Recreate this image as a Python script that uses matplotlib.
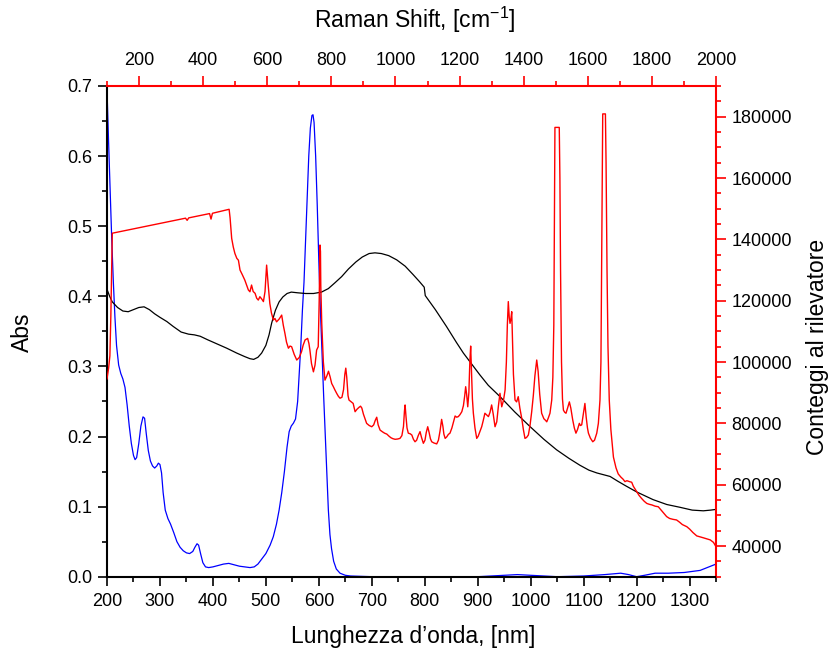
import matplotlib
matplotlib.use('Agg')
import matplotlib.pyplot as plt
from matplotlib.ticker import MultipleLocator, FormatStrFormatter

plt.rcParams['font.family'] = ['Liberation Sans', 'DejaVu Sans']
plt.rcParams['mathtext.fontset'] = 'custom'
plt.rcParams['mathtext.rm'] = 'Liberation Sans'
plt.rcParams['mathtext.it'] = 'Liberation Sans:italic'

# ---------------- data ----------------
# blue absorption spectrum (wavelength nm, Abs)
blue_wl = [200, 203, 206, 209, 212, 215, 218, 222, 226, 230, 234, 238, 242, 246, 250, 253,
           256, 260, 264, 268, 271, 274, 278, 282, 286, 290, 294, 297, 300, 303, 306, 310,
           315, 320, 326, 332, 338, 344, 350, 356, 362, 366, 370, 373, 377, 381, 386, 392,
           400, 410, 420, 430, 440, 450, 460, 470, 478, 485, 492, 500, 508, 514, 520, 525,
           530, 535, 540, 544, 548, 552, 556, 560, 563, 566, 569, 572, 575, 578, 581, 584,
           587, 589, 591, 594, 597, 600, 603, 606, 609, 612, 615, 618, 621, 624, 628, 633,
           640, 650, 660, 700, 800, 900, 950, 975, 1000, 1050, 1100, 1140, 1170, 1185, 1200,
           1215, 1235, 1260, 1290, 1320, 1350]
blue_abs = [0.695, 0.62, 0.55, 0.48, 0.42, 0.37, 0.33, 0.302, 0.29, 0.282, 0.27, 0.245, 0.215, 0.19, 0.173, 0.167,
            0.17, 0.19, 0.215, 0.228, 0.226, 0.205, 0.18, 0.165, 0.158, 0.155, 0.158, 0.162, 0.16, 0.148, 0.12, 0.095,
            0.083, 0.075, 0.063, 0.05, 0.042, 0.037, 0.034, 0.033, 0.036, 0.042, 0.047, 0.045, 0.032, 0.02, 0.014, 0.013,
            0.014, 0.016, 0.018, 0.019, 0.017, 0.015, 0.014, 0.013, 0.014, 0.018, 0.025, 0.033, 0.045, 0.057, 0.075, 0.095,
            0.12, 0.15, 0.185, 0.207, 0.215, 0.219, 0.225, 0.25, 0.29, 0.33, 0.38, 0.42, 0.48, 0.54, 0.6, 0.64,
            0.658, 0.659, 0.648, 0.6, 0.53, 0.45, 0.38, 0.32, 0.26, 0.205, 0.15, 0.095, 0.06, 0.04, 0.022, 0.011,
            0.005, 0.002, 0.001, 0.0, 0.0, 0.0, 0.002, 0.003, 0.002, 0.0, 0.001, 0.003, 0.005, 0.003, 0.0,
            0.002, 0.005, 0.005, 0.006, 0.009, 0.018]

# black absorption spectrum (wavelength nm, Abs)
black_wl = [200, 205, 210, 220, 230, 240, 250, 260, 270, 280, 290, 300, 313, 325, 340, 354,
            365, 376, 390, 405, 426, 445, 460, 470, 477, 485, 492, 500, 506, 511, 518, 525,
            532, 540, 548, 560, 575, 590, 605, 618, 630, 643, 656, 670, 682, 695, 706, 718,
            732, 747, 763, 778, 790, 799, 801, 820, 841, 860, 873, 889, 904, 920, 942, 970,
            999, 1025, 1049, 1072, 1093, 1110, 1125, 1140, 1150, 1165, 1181, 1200, 1231, 1257,
            1282, 1305, 1326, 1340, 1350]
black_abs = [0.41, 0.4, 0.392, 0.384, 0.379, 0.378, 0.381, 0.384, 0.385, 0.381, 0.375, 0.37, 0.364, 0.357, 0.349, 0.346,
             0.345, 0.343, 0.338, 0.333, 0.326, 0.319, 0.314, 0.311, 0.31, 0.313, 0.319, 0.33, 0.345, 0.362, 0.38, 0.392,
             0.399, 0.404, 0.406, 0.405, 0.404, 0.404, 0.406, 0.411, 0.419, 0.428, 0.439, 0.449, 0.456, 0.461, 0.462, 0.461,
             0.458, 0.452, 0.443, 0.431, 0.421, 0.413, 0.401, 0.381, 0.357, 0.334, 0.319, 0.303, 0.288, 0.273, 0.257, 0.235,
             0.214, 0.196, 0.181, 0.169, 0.159, 0.152, 0.148, 0.145, 0.143, 0.136, 0.129, 0.121, 0.11, 0.103,
             0.099, 0.095, 0.094, 0.095, 0.096]

# red Raman spectrum (Raman shift cm-1, detector counts)
raman_shift = [100, 105, 109, 112, 114, 116.5, 345, 350, 355, 420, 424.5, 429, 481, 484, 489, 494,
               499, 505, 510, 515, 522, 530, 536, 541, 546, 551, 556, 562, 567, 572, 577, 583,
               588, 593, 598, 603, 608, 613, 619, 624, 629, 637, 645, 650, 655, 660, 666, 671,
               676, 684, 692, 700, 707, 712, 718, 726, 730, 733, 738, 744, 749, 754, 759, 762,
               764.5, 766, 767, 770, 775, 780, 786, 791, 796, 801, 806, 811, 817, 822, 827, 833,
               838, 842, 845, 848, 852, 855, 862, 868, 874, 880, 886, 891, 895, 900, 905, 910,
               918, 926, 932, 937, 941.5, 946, 952, 960, 966, 973, 980, 986, 992, 999, 1007, 1014,
               1020, 1025, 1028, 1030, 1033, 1036, 1040, 1046, 1051, 1056, 1061, 1066, 1071, 1076.6, 1081, 1087,
               1092, 1096, 1100.6, 1105, 1109, 1113, 1120, 1128.7, 1134, 1139, 1144, 1148, 1151, 1155, 1160, 1165,
               1170, 1176, 1181, 1186, 1191, 1196, 1201, 1207, 1212, 1216, 1219, 1222, 1225.5, 1229, 1232, 1234.6,
               1237, 1240, 1243, 1248, 1253.5, 1258, 1263, 1269, 1274, 1279, 1284, 1290, 1295, 1300, 1305, 1310.6,
               1316, 1321, 1326, 1331.5, 1337, 1342, 1346, 1349, 1352, 1355, 1357.4, 1360, 1362.7, 1365, 1368, 1373,
               1378, 1383, 1388, 1394, 1399, 1404, 1409, 1414.6, 1420, 1425, 1430, 1435, 1440.7, 1445, 1450, 1456,
               1463, 1468, 1472, 1477, 1482, 1487.5, 1491, 1494, 1496, 1497.5, 1511, 1513, 1515, 1518, 1521, 1524,
               1528, 1532, 1537, 1542.5, 1547, 1553, 1558, 1563, 1568, 1573.6, 1577, 1581, 1586, 1591, 1595, 1599,
               1602, 1608, 1615.5, 1621, 1628, 1633, 1638, 1641, 1643, 1645, 1646.6, 1655, 1657, 1660, 1663, 1667,
               1672, 1680, 1688, 1695, 1703, 1710, 1716, 1722, 1730, 1737, 1742, 1748, 1753, 1760, 1768, 1776,
               1784, 1792, 1800, 1810, 1820, 1828, 1836, 1846, 1855, 1866, 1877, 1886, 1895, 1909, 1918, 1928,
               1940, 1950, 1960, 1972, 1982, 1992, 2000]
raman_counts = [94500, 98000, 102000, 115000, 128000, 142000, 146900, 146200, 147000, 148400, 146600, 148500, 149800, 147000, 140300, 137500,
                135400, 133800, 133200, 130000, 128500, 126700, 125000, 123500, 122900, 125100, 123000, 122400, 120800, 120200, 121300, 120500,
                119700, 123000, 131600, 125000, 119100, 116000, 113700, 114200, 113100, 114000, 115300, 112000, 109400, 106500, 104500, 105200,
                105000, 102500, 100650, 101500, 103400, 105500, 107200, 107700, 106000, 103900, 99500, 96800, 99000, 103900, 105000, 120000,
                138150, 136000, 125000, 112600, 100000, 94100, 95500, 97000, 95200, 93000, 92000, 90900, 89700, 88800, 88200, 88500,
                91000, 96000, 98000, 95000, 89000, 87600, 87000, 86500, 83800, 84600, 85200, 85600, 85000, 83000, 81500, 80000,
                79300, 78900, 79500, 81000, 82000, 79500, 77800, 77200, 76800, 76500, 75800, 75300, 75000, 74800, 74900, 75100,
                76000, 79000, 84000, 86000, 82000, 78500, 76800, 76600, 76200, 74800, 74000, 74500, 76000, 77300, 75500, 73500,
                74500, 77000, 78900, 77000, 75000, 74000, 73600, 73300, 74500, 77500, 81300, 79000, 76500, 75100, 75600, 76400,
                76800, 78500, 80500, 82400, 82000, 82200, 82800, 83800, 85800, 89000, 91950, 89500, 85400, 90000, 100000, 105200,
                98000, 88000, 83300, 78500, 75100, 75800, 77200, 78900, 81000, 83300, 82800, 82200, 83600, 86000, 83000, 78900,
                80500, 85500, 89800, 85400, 87500, 90900, 100000, 112000, 119700, 114500, 112600, 114000, 116400, 108000, 96000, 87600,
                87000, 88700, 85000, 81600, 78000, 75100, 75400, 76200, 79500, 83800, 89000, 95500, 100650, 97000, 89500, 83300,
                81500, 81000, 80500, 81800, 83300, 87600, 95000, 112000, 150000, 176500, 176500, 160000, 130000, 100000, 88000, 84300,
                83600, 83300, 85000, 87000, 85000, 81100, 78500, 76800, 78000, 80000, 79300, 79500, 83000, 86500, 82000, 78500,
                76800, 75200, 74000, 74500, 76800, 80000, 87600, 100000, 130000, 165000, 180900, 180900, 165000, 130000, 105000, 87600,
                78000, 69000, 65500, 63500, 62500, 61800, 61000, 61300, 61000, 60800, 59500, 58500, 57700, 56500, 55500, 54600,
                53900, 53600, 53400, 53000, 52800, 51800, 50800, 49600, 49000, 48700, 48500, 47800, 47000, 46300, 45500, 44400,
                43300, 43000, 42700, 42300, 42000, 41200, 39800]

# ---------------- figure ----------------
W, H = 829, 650
fig = plt.figure(figsize=(W / 100, H / 100), dpi=100)
x0, x1, y0, y1 = 107, 716, 86, 576.7
rect = [x0 / W, 1 - y1 / H, (x1 - x0) / W, (y1 - y0) / H]

ax = fig.add_axes(rect)
ax.plot(blue_wl, blue_abs, color='#0000FF', lw=0.9)
ax.plot(black_wl, black_abs, color='black', lw=0.9)
ax.set_xlim(200, 1350)
ax.set_ylim(0, 0.7)
ax.xaxis.set_major_locator(MultipleLocator(100))
ax.xaxis.set_minor_locator(MultipleLocator(50))
ax.yaxis.set_major_locator(MultipleLocator(0.1))
ax.yaxis.set_minor_locator(MultipleLocator(0.05))
ax.yaxis.set_major_formatter(FormatStrFormatter('%.1f'))
ax.tick_params(which='both', direction='out', top=False, right=False,
               labelsize=13, width=1.2, color='black')
ax.tick_params(which='major', length=6.5, pad=5)
ax.tick_params(which='minor', length=3.6)
ax.tick_params(axis='y', pad=4)
for s in ['left', 'bottom']:
    ax.spines[s].set_color('black')
    ax.spines[s].set_linewidth(1.5)
for s in ['top', 'right']:
    ax.spines[s].set_color('red')
    ax.spines[s].set_linewidth(1.5)

ax2 = fig.add_axes(rect, frameon=False)
ax2.patch.set_visible(False)
ax2.plot(raman_shift, raman_counts, color='red', lw=1.0)
ax2.set_xlim(100, 2000)
ax2.set_ylim(30000, 190000)
ax2.xaxis.tick_top()
ax2.yaxis.tick_right()
ax2.xaxis.set_major_locator(MultipleLocator(200))
ax2.xaxis.set_minor_locator(MultipleLocator(100))
ax2.yaxis.set_major_locator(MultipleLocator(20000))
ax2.yaxis.set_minor_locator(MultipleLocator(5000))
ax2.tick_params(which='both', direction='out', bottom=False, left=False,
                labelsize=13, width=1.2, color='red', labelcolor='black')
ax2.tick_params(which='major', length=7.2, pad=5)
ax2.tick_params(which='minor', length=3.6)
ax2.tick_params(axis='y', pad=4)

# axis titles
fig.text(413.5 / W, 1 - 636 / H, 'Lunghezza d\u2019onda, [nm]', ha='center', va='center', fontsize=16.5)
fig.text(415 / W, 1 - 20 / H, r'Raman Shift, [cm$^{\mathregular{-1}}$]', ha='center', va='center', fontsize=16.5)
fig.text(22 / W, 1 - 332 / H, 'Abs', ha='center', va='center', rotation=90, fontsize=16.5)
fig.text(818 / W, 1 - 347 / H, 'Conteggi al rilevatore', ha='center', va='center', rotation=90, fontsize=16.5)

fig.savefig('out.png', dpi=100)
